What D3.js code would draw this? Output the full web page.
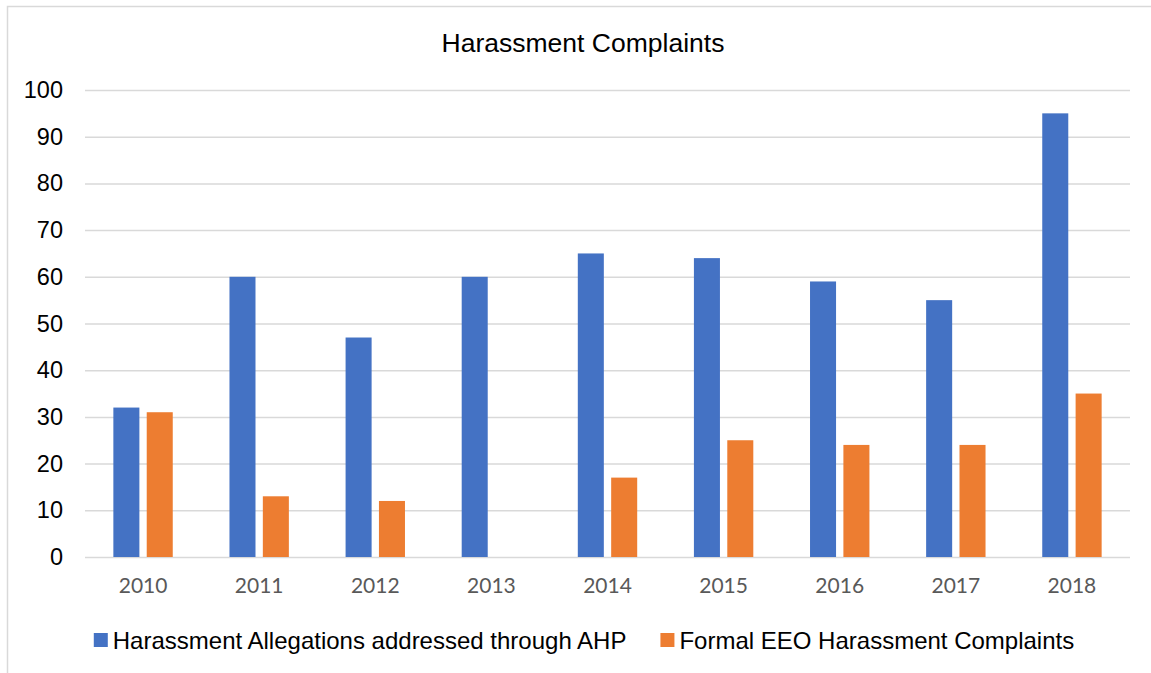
<!DOCTYPE html>
<html>
<head>
<meta charset="utf-8">
<script src="https://cdn.jsdelivr.net/npm/d3@7"></script>
<style>
  body { margin: 0; background: #fff; }
  svg { display: block; }
</style>
</head>
<body>
<div class="chart"></div>
<script>
// HARASSMENT COMPLAINTS - grouped bar chart
const years = ['2010', '2011', '2012', '2013', '2014', '2015', '2016', '2017', '2018'];
const ahpValues = [32, 60, 47, 60, 65, 64, 59, 55, 95];
const eeoValues = [31, 13, 12, 0, 17, 25, 24, 24, 35];
const seriesNames = ['Harassment Allegations addressed through AHP', 'Formal EEO Harassment Complaints'];
const seriesColors = ['#4472C4', '#ED7D31'];
const yTicks = [0, 10, 20, 30, 40, 50, 60, 70, 80, 90, 100];

const fullWidth = 1151;
const fullHeight = 673;
const margin = { top: 90, right: 21, bottom: 116, left: 85 };
const width = fullWidth - margin.left - margin.right;
const height = fullHeight - margin.top - margin.bottom;

const root = d3.select('.chart')
	.append('svg')
		.attr('width', fullWidth)
		.attr('height', fullHeight);

// outer frame (runs off the right / bottom of the picture)
root.append('rect')
	.attr('x', 7.5)
	.attr('y', 6.5)
	.attr('width', fullWidth + 20)
	.attr('height', fullHeight + 20)
	.attr('fill', 'none')
	.attr('stroke', '#d9d9d9')
	.attr('stroke-width', 1.5);

root.append('text')
	.attr('x', 583)
	.attr('y', 52)
	.attr('text-anchor', 'middle')
	.style('font-family', '"Liberation Sans", Arial, sans-serif')
	.style('font-size', '26.5px')
	.attr('fill', '#000')
	.text('Harassment Complaints');

const svg = root.append('g')
	.attr('transform', `translate(${margin.left}, ${margin.top})`);

const yScale = d3.scaleLinear()
	.domain([0, 100])
	.range([height, 0]);

const x0 = d3.scaleBand()
	.domain(years)
	.range([0, width])
	.padding(0);

const x1 = d3.scaleBand()
	.domain(seriesNames)
	.range([0, x0.bandwidth()])
	.paddingInner(0.22)
	.paddingOuter(0.85);

// gridlines + y labels
const yAxis = d3.axisLeft(yScale)
	.tickValues(yTicks)
	.tickSize(-width)
	.tickPadding(22)
	.tickFormat(d3.format('d'));

svg.append('g')
	.call(yAxis)
	.call(g => g.select('.domain').remove())
	.call(g => g.selectAll('.tick line')
		.attr('stroke', '#d9d9d9')
		.attr('stroke-width', 1.5))
	.call(g => g.selectAll('.tick text')
		.attr('fill', '#000')
		.style('font-family', '"Liberation Sans", Arial, sans-serif')
		.style('font-size', '23.5px'));

const xAxis = d3.axisBottom(x0)
	.tickSize(0)
	.tickPadding(21);

svg.append('g')
	.attr('transform', `translate(0, ${height})`)
	.call(xAxis)
	.call(g => g.select('.domain').remove())
	.call(g => g.selectAll('.tick text')
		.attr('fill', '#595959')
		.style('font-family', 'Lato, "Open Sans", sans-serif')
		.style('font-size', '21px'));

const data = years.map((year, i) => ({
	year: year,
	values: [
		{ name: seriesNames[0], value: ahpValues[i], color: seriesColors[0] },
		{ name: seriesNames[1], value: eeoValues[i], color: seriesColors[1] }
	]
}));

svg.selectAll('g.group')
	.data(data)
	.enter()
	.append('g')
		.attr('class', 'group')
		.attr('transform', d => `translate(${x0(d.year)}, 0)`)
	.selectAll('rect')
	.data(d => d.values.filter(v => v.value > 0))
	.enter()
	.append('rect')
		.attr('x', d => x1(d.name))
		.attr('y', d => yScale(d.value))
		.attr('width', x1.bandwidth())
		.attr('height', d => height - yScale(d.value))
		.attr('fill', d => d.color);

// legend, centred under the chart
const legend = root.append('g');
const items = legend.selectAll('g')
	.data(seriesNames)
	.enter()
	.append('g');

items.append('rect')
	.attr('width', 14)
	.attr('height', 14)
	.attr('y', -7)
	.attr('fill', (d, i) => seriesColors[i]);

items.append('text')
	.attr('x', 19)
	.attr('y', 1)
	.attr('dy', '0.35em')
	.style('font-family', '"Liberation Sans", Arial, sans-serif')
	.style('font-size', '24px')
	.attr('fill', '#000')
	.text(d => d);

let offset = 0;
const widths = [];
items.each(function() {
	const w = 19 + d3.select(this).select('text').node().getComputedTextLength();
	widths.push(w);
});
const gap = 34;
const total = d3.sum(widths) + gap * (widths.length - 1);
items.attr('transform', (d, i) => {
	const t = `translate(${offset}, 0)`;
	offset += widths[i] + gap;
	return t;
});
legend.attr('transform', `translate(${584 - total / 2}, 640)`);
</script>
</body>
</html>
